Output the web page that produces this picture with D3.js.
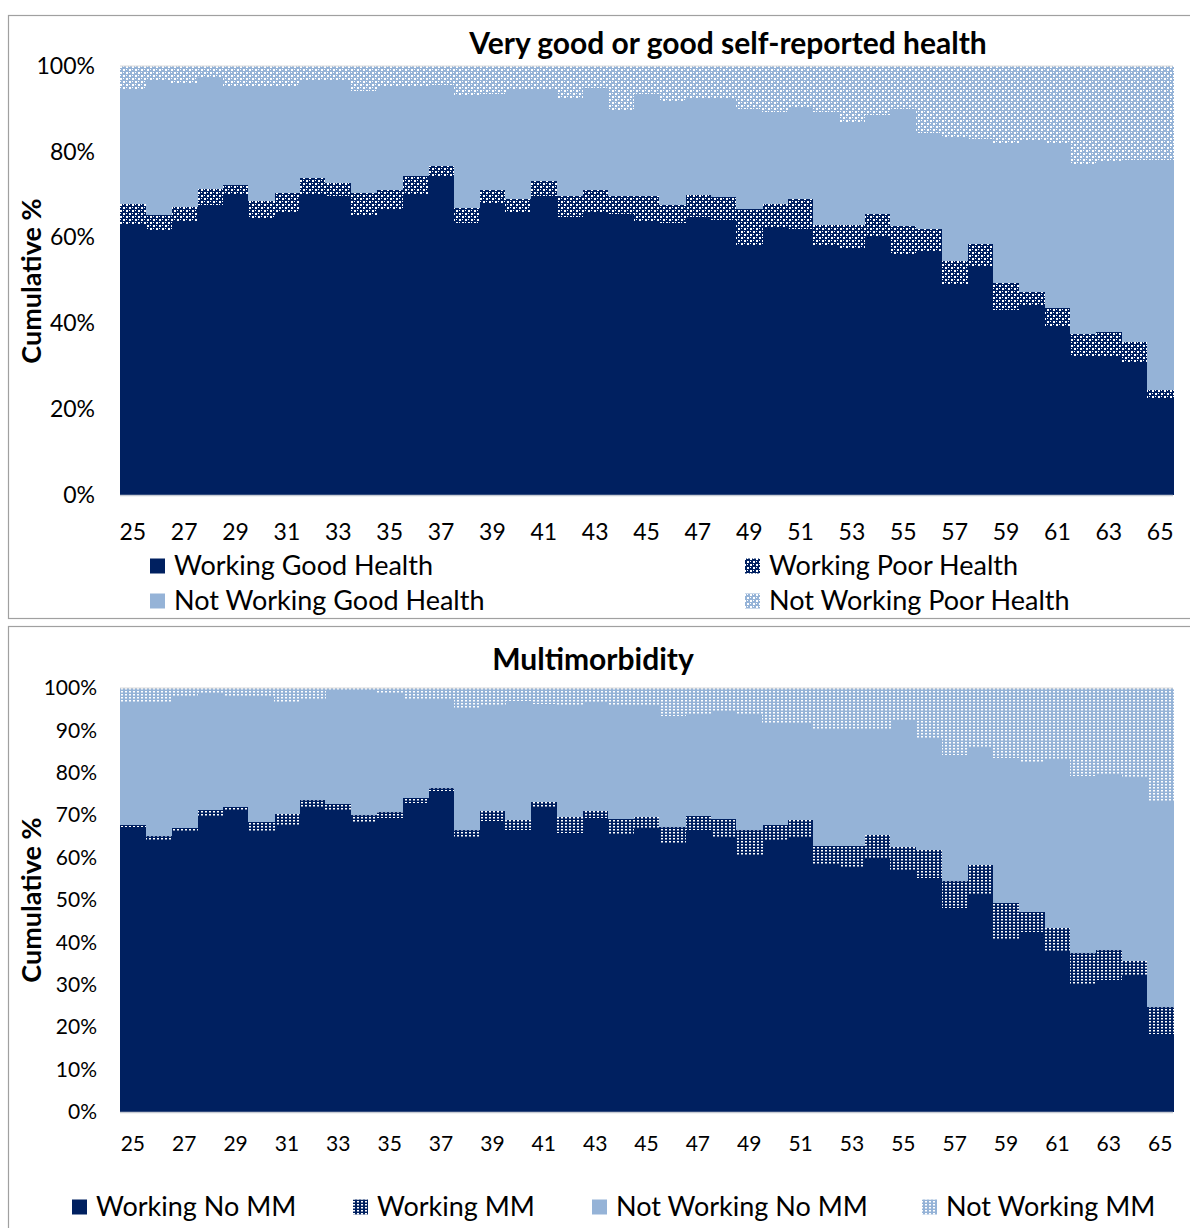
<!DOCTYPE html>
<html><head><meta charset="utf-8">
<script src="https://cdn.jsdelivr.net/npm/d3@7"></script>
<style>
body{margin:0;background:#fff}
text{font-family:Lato,"Liberation Sans",sans-serif;fill:#000}
</style>
</head><body>
<svg id="c" width="1190" height="1228"></svg>
<script>
// ---------- categories & ticks ----------
const ages = [25,26,27,28,29,30,31,32,33,34,35,36,37,38,39,40,41,42,43,44,45,
              46,47,48,49,50,51,52,53,54,55,56,57,58,59,60,61,62,63,64,65];
const xTickAges = [25,27,29,31,33,35,37,39,41,43,45,47,49,51,53,55,57,59,61,63,65];
const yTicksHealth = [0,20,40,60,80,100];
const yTicksMM = [0,10,20,30,40,50,60,70,80,90,100];

// ---------- Panel 1: Very good or good self-reported health (% of age group) ----------
const healthKeys = ["Working Good Health","Working Poor Health","Not Working Good Health","Not Working Poor Health"];
const workingGoodHealth = [62.9,61.5,63.7,67.5,69.9,64.4,65.9,70.2,69.6,65.2,66.7,69.9,74.3,63.4,68.1,66.0,69.6,64.8,65.9,65.5,63.7,
                           63.3,64.7,64.2,58.0,62.4,62.0,58.0,57.4,60.3,56.0,56.8,49.0,53.2,43.2,44.4,39.3,32.5,32.5,31.1,22.6];
const workingPoorHealth = [5.0,3.7,3.4,3.9,2.4,4.2,4.4,3.6,3.1,5.1,4.3,4.4,2.3,3.5,3.1,3.1,3.7,4.8,5.2,4.1,5.9,
                           4.2,5.3,5.2,8.7,5.5,7.0,5.0,5.6,5.2,6.6,5.2,5.6,5.4,6.2,2.9,4.4,5.0,5.6,4.5,1.9];
const notWorkingGoodHealth = [26.7,31.5,28.8,25.9,22.8,26.5,24.8,22.7,23.8,23.9,24.1,20.8,18.9,26.1,22.3,25.2,21.0,22.8,23.7,19.9,23.8,
                              24.3,22.5,23.1,23.3,21.4,21.4,26.3,23.8,23.0,27.3,22.4,28.7,24.4,32.5,35.3,38.2,39.7,39.6,42.6,53.7];
const notWorkingPoorHealth = [5.4,3.3,4.1,2.7,4.9,4.9,4.9,3.5,3.5,5.8,4.9,4.9,4.5,7.0,6.5,5.7,5.7,7.6,5.2,10.5,6.6,
                              8.2,7.5,7.5,10.0,10.7,9.6,10.7,13.2,11.5,10.1,15.6,16.7,17.0,18.1,17.4,18.1,22.8,22.3,21.8,21.8];

// ---------- Panel 2: Multimorbidity (% of age group) ----------
const mmKeys = ["Working No MM","Working MM","Not Working No MM","Not Working MM"];
const workingNoMM = [67.3,63.9,66.2,69.6,71.2,66.2,67.7,71.6,71.2,68.1,69.4,72.8,75.6,64.9,68.7,66.5,71.6,65.7,69.4,65.5,66.8,
                     63.1,66.6,64.7,60.4,63.9,64.7,58.4,57.6,59.9,57.0,55.2,48.0,51.5,40.5,42.4,37.7,29.9,31.2,32.0,18.5];
const workingMM = [0.5,1.2,0.7,1.6,0.8,2.3,2.5,2.0,1.4,1.9,1.4,1.3,0.7,1.7,2.3,2.3,1.5,3.8,1.6,3.7,2.7,
                   4.0,3.3,4.5,6.1,3.8,4.1,4.3,5.2,5.4,5.5,6.6,6.5,6.7,8.9,4.8,5.8,7.6,6.9,3.5,6.2];
const notWorkingNoMM = [28.7,31.4,31.2,27.7,25.8,29.3,26.5,23.9,26.8,29.2,27.8,23.4,21.1,28.4,25.0,28.2,23.1,26.5,25.5,26.6,26.5,
                        26.4,23.9,25.4,27.3,24.0,22.9,27.7,27.6,25.1,29.9,26.4,29.7,27.8,34.2,35.4,39.5,41.8,41.7,43.4,48.5];
const notWorkingMM = [3.5,3.5,1.9,1.1,2.2,2.2,3.3,2.5,0.6,0.8,1.4,2.5,2.6,5.0,4.0,3.0,3.8,4.0,3.5,4.2,4.0,
                      6.5,6.2,5.4,6.2,8.3,8.3,9.6,9.6,9.6,7.6,11.8,15.8,14.0,16.4,17.4,17.0,20.7,20.2,21.1,26.8];

// ---------- styling ----------
const NAVY = "#002060", LIGHT = "#95B3D7";
const svg = d3.select("#c");
svg.append("rect").attr("width",1190).attr("height",1228).attr("fill","#fff");
const defs = svg.append("defs");

function latticePattern(id, base){
  const p = defs.append("pattern").attr("id",id).attr("patternUnits","userSpaceOnUse")
    .attr("width",6).attr("height",6);
  p.append("rect").attr("width",6).attr("height",6).attr("fill",base);
  [[0,0,2,2],[3,3,2,2],[3,0,1,1],[0,3,1,1]].forEach(r=>
    p.append("rect").attr("x",r[0]).attr("y",r[1]).attr("width",r[2]).attr("height",r[3]).attr("fill","#fff"));
}
function dotPattern(id, base){
  const p = defs.append("pattern").attr("id",id).attr("patternUnits","userSpaceOnUse")
    .attr("width",4).attr("height",3);
  p.append("rect").attr("width",4).attr("height",3).attr("fill",base);
  p.append("rect").attr("x",1).attr("y",1).attr("width",2).attr("height",1.5).attr("fill","#fff");
}
latticePattern("latDark", NAVY);
latticePattern("latLight", LIGHT);
dotPattern("dotDark", NAVY);
dotPattern("dotLight", LIGHT);

// panel frames
svg.append("rect").attr("x",8.5).attr("y",15.5).attr("width",1200).attr("height",603)
  .attr("fill","none").attr("stroke","#A0A0A0").attr("stroke-width",1.2);
svg.append("rect").attr("x",8.5).attr("y",626.5).attr("width",1200).attr("height",640)
  .attr("fill","none").attr("stroke","#A0A0A0").attr("stroke-width",1.2);

function drawPanel(cfg){
  const rows = ages.map((a,i)=>{
    const o = {age:a};
    cfg.keys.forEach((k,j)=> o[k] = cfg.series[j][i]);
    return o;
  });
  const stacked = d3.stack().keys(cfg.keys)(rows);
  const x = d3.scaleBand().domain(ages).range([cfg.left,cfg.right]).padding(0);
  const y = d3.scaleLinear().domain([0,100]).range([cfg.bottom,cfg.top]);
  const g = svg.append("g");

  g.selectAll("g.layer").data(stacked).join("g").attr("class","layer")
    .attr("fill",(d,i)=>cfg.fills[i])
    .selectAll("rect").data(d=>d).join("rect")
      .attr("shape-rendering","crispEdges")
      .attr("x",d=>x(d.data.age))
      .attr("width",x.bandwidth()+0.5)
      .attr("y",d=>y(d[1]))
      .attr("height",d=>y(d[0])-y(d[1]));

  // baseline and top line
  g.append("line").attr("x1",cfg.left).attr("x2",cfg.right).attr("y1",y(0)+0.5).attr("y2",y(0)+0.5)
    .attr("stroke","#C8CCD4").attr("stroke-width",1.5);
  g.append("line").attr("x1",cfg.left).attr("x2",cfg.right).attr("y1",y(100)).attr("y2",y(100))
    .attr("stroke","#D9D9D9").attr("stroke-width",1);

  // y axis
  const ya = d3.axisLeft(y).tickValues(cfg.yTicks).tickFormat(d=>d+"%").tickSize(0).tickPadding(cfg.yPad);
  const yg = g.append("g").attr("transform",`translate(${cfg.left},0)`).call(ya);
  yg.select(".domain").remove();
  yg.selectAll("text").attr("font-size",cfg.tickFont).attr("font-family","Lato").attr("fill","#000");

  // x axis
  const xa = d3.axisBottom(x).tickValues(xTickAges).tickSize(0).tickPadding(cfg.xPad);
  const xg = g.append("g").attr("transform",`translate(0,${cfg.bottom})`).call(xa);
  xg.select(".domain").remove();
  xg.selectAll("text").attr("font-size",cfg.tickFont).attr("font-family","Lato").attr("fill","#000");

  // title
  g.append("text").attr("x",cfg.titleX).attr("y",cfg.titleY).attr("text-anchor","middle")
    .attr("font-weight","bold").attr("font-size",cfg.titleFont).text(cfg.title);
  // y title
  g.append("text").attr("transform",`translate(${cfg.yTitleX},${cfg.yTitleY}) rotate(-90)`)
    .attr("text-anchor","middle").attr("font-weight","bold").attr("font-size",cfg.yTitleFont)
    .attr("dy","0.35em").text("Cumulative %");

  // legend
  const lg = g.append("g");
  cfg.keys.forEach((k,i)=>{
    const p = cfg.legendPos[i];
    lg.append("rect").attr("x",p[0]).attr("y",p[1]-7.5).attr("width",15).attr("height",15)
      .attr("fill",cfg.fills[i]);
    lg.append("text").attr("x",p[0]+cfg.legendGap).attr("y",p[1]).attr("dy","0.35em")
      .attr("font-size",cfg.legendFont).text(k);
  });
}

drawPanel({
  keys: healthKeys,
  series: [workingGoodHealth, workingPoorHealth, notWorkingGoodHealth, notWorkingPoorHealth],
  fills: [NAVY,"url(#latDark)",LIGHT,"url(#latLight)"],
  left:120, right:1173, top:66, bottom:495,
  yTicks: yTicksHealth, yPad:25, xPad:29, tickFont:23,
  title:"Very good or good self-reported health", titleX:728, titleY:54, titleFont:30,
  yTitleX:32, yTitleY:281, yTitleFont:27,
  legendPos:[[150,566],[745,566],[150,601],[745,601]], legendGap:24, legendFont:27
});

drawPanel({
  keys: mmKeys,
  series: [workingNoMM, workingMM, notWorkingNoMM, notWorkingMM],
  fills: [NAVY,"url(#dotDark)",LIGHT,"url(#dotLight)"],
  left:120, right:1173, top:688, bottom:1112,
  yTicks: yTicksMM, yPad:23, xPad:24, tickFont:21,
  title:"Multimorbidity", titleX:593, titleY:670, titleFont:30,
  yTitleX:32, yTitleY:900, yTitleFont:27,
  legendPos:[[72,1207],[353,1207],[592,1207],[922,1207]], legendGap:24, legendFont:27
});
</script>
</body></html>
